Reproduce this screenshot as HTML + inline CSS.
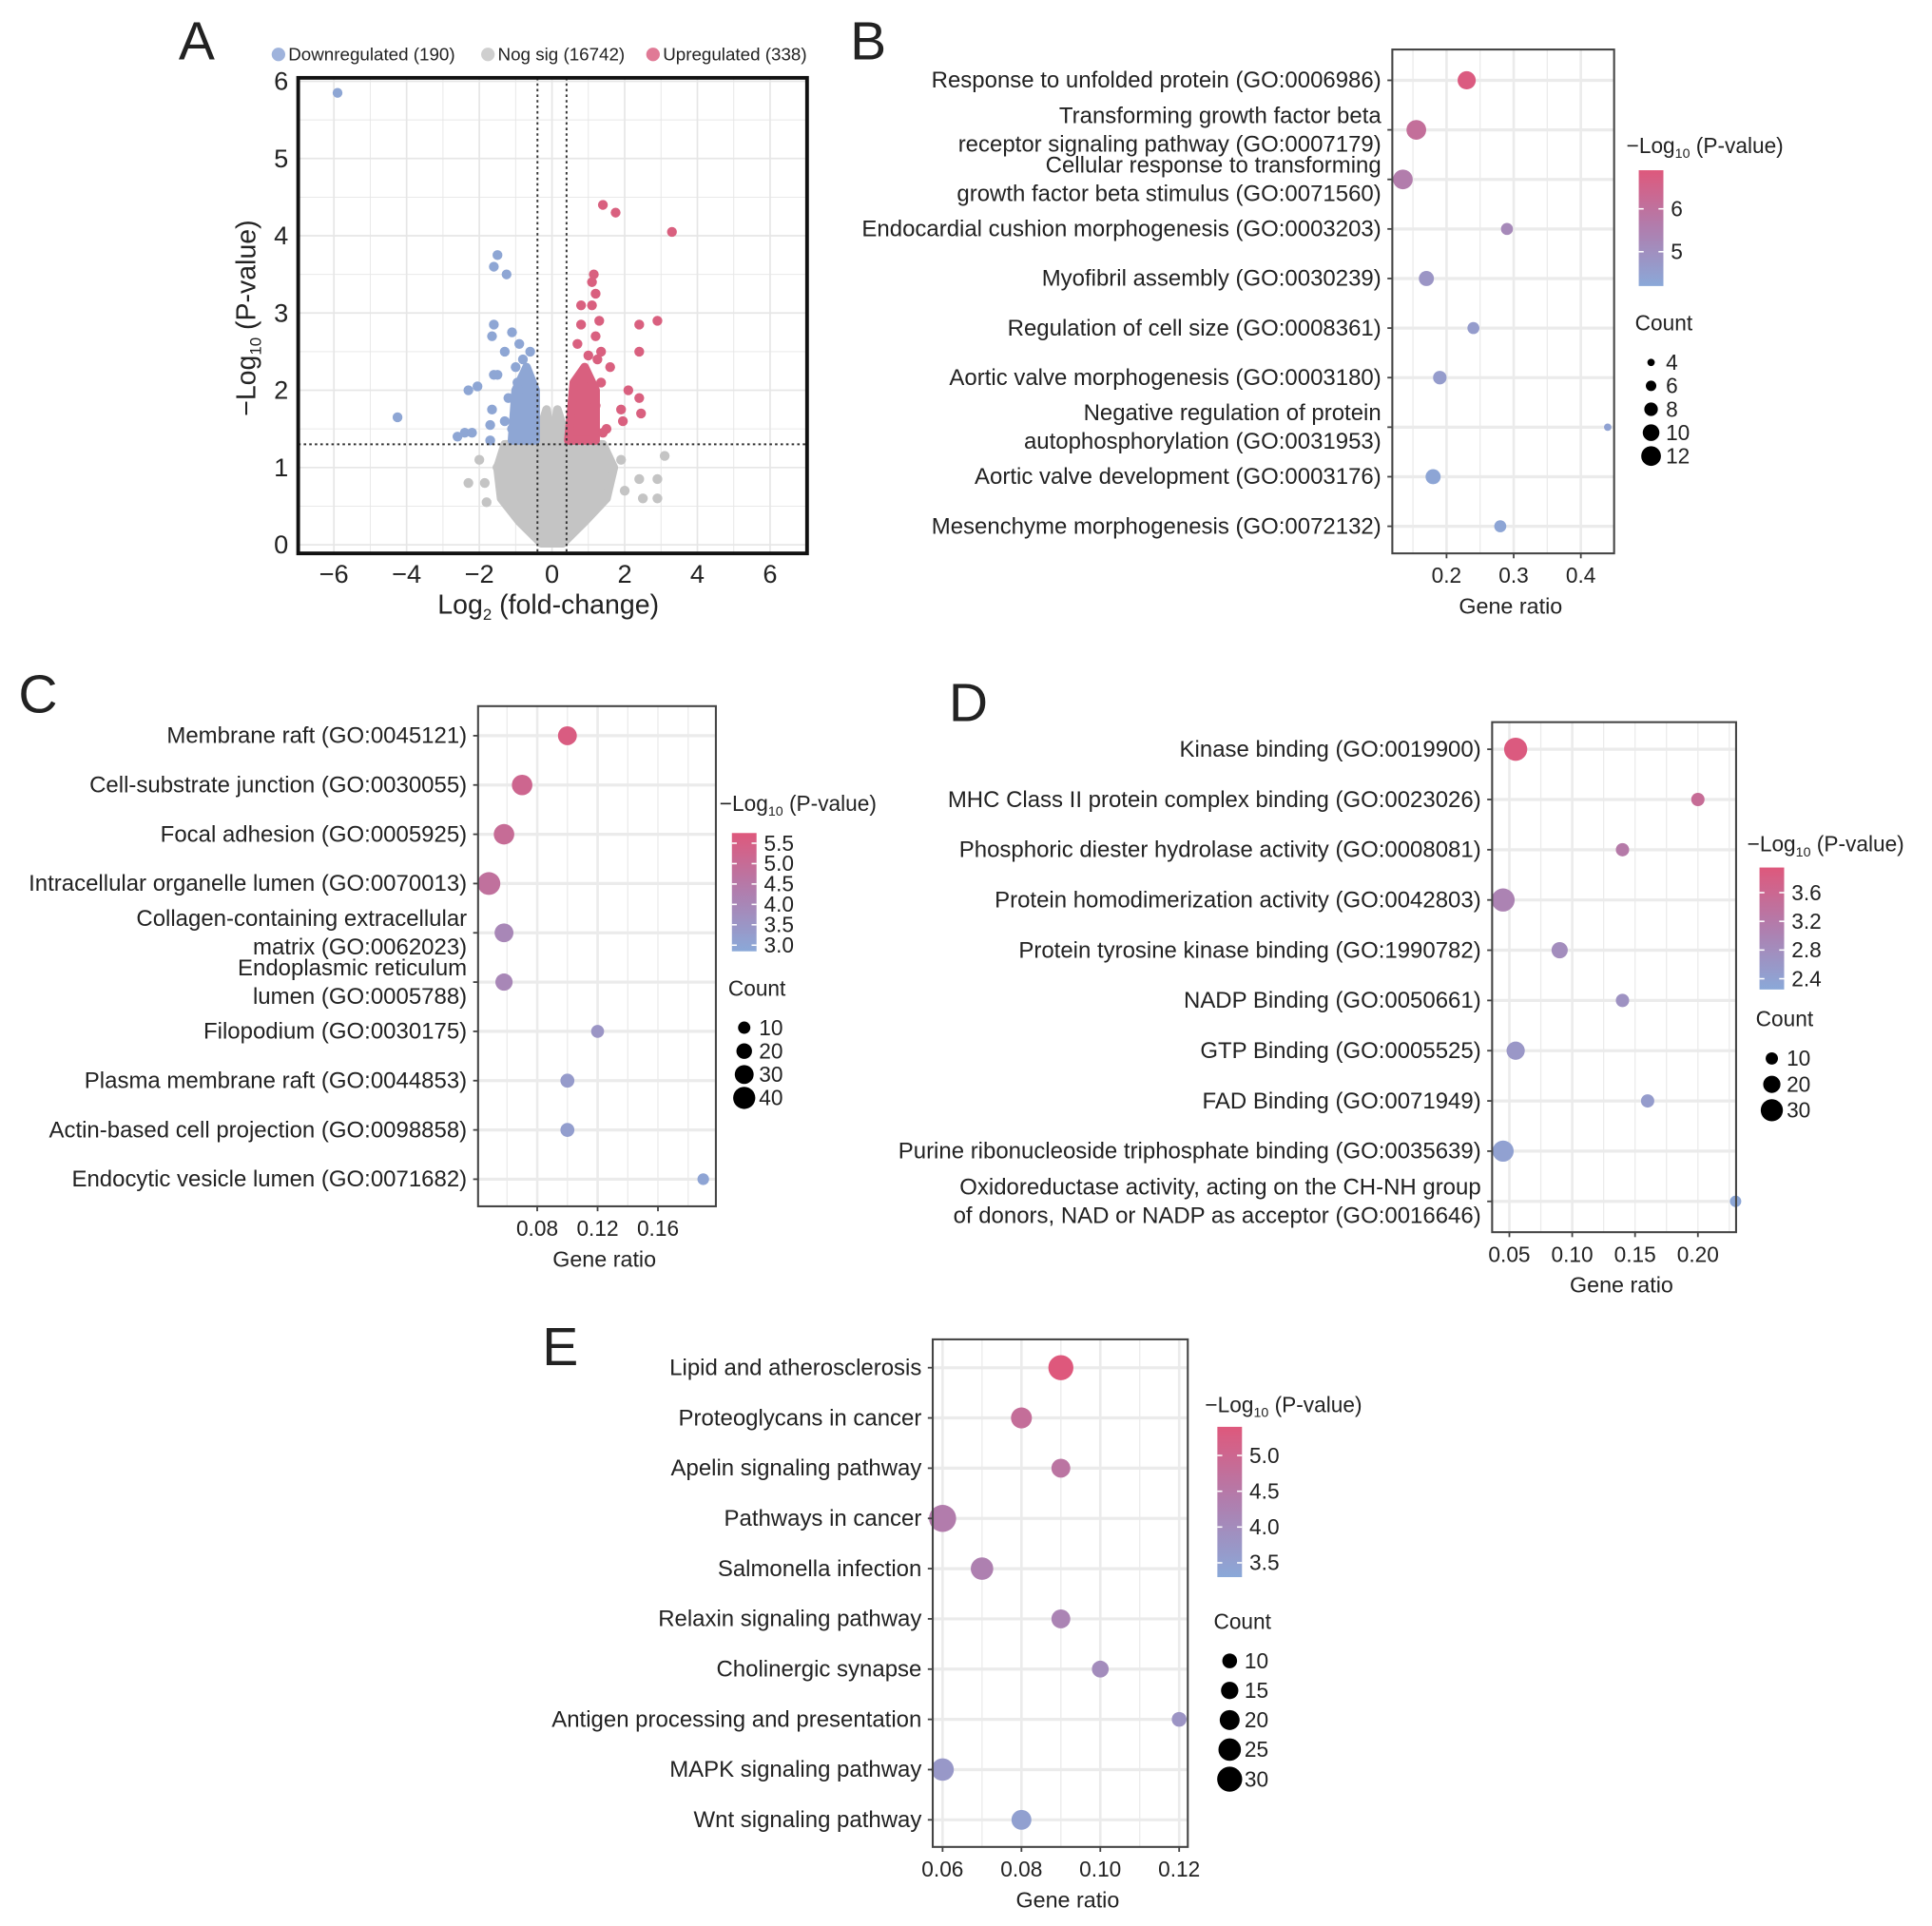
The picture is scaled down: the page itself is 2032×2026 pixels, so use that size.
<!DOCTYPE html>
<html><head><meta charset="utf-8"><style>
html,body{margin:0;padding:0;background:#fff}
svg{display:block}
text{font-family:"Liberation Sans",Arial,sans-serif;fill:#222}
</style></head>
<body>
<svg id="fig" width="2032" height="2026" viewBox="0 0 1568 1563" xmlns="http://www.w3.org/2000/svg"></svg>
<script>
// ---- Panel A data ----
const downPts = [[-5.9,5.85],[-4.25,1.65],[-1.5,3.75],[-1.6,3.6],[-1.25,3.5],[-1.6,2.85],[-1.65,2.7],[-1.1,2.75],[-1.3,2.5],[-2.3,2.0],[-2.05,2.05],[-1.6,2.2],[-1.5,2.2],[-1.65,1.75],[-1.7,1.55],[-2.6,1.4],[-2.4,1.45],[-2.2,1.45],[-1.7,1.35],[-0.9,2.6],[-0.8,2.4],[-1.0,2.3],[-0.7,2.0],[-1.2,1.9],[-1.3,1.6],[-0.6,2.5],[-1.1,1.5],[-0.95,2.1]];
const upPts = [[1.4,4.4],[1.75,4.3],[3.3,4.05],[1.15,3.5],[1.1,3.4],[1.2,3.25],[0.8,3.1],[1.1,3.1],[1.3,2.9],[2.4,2.85],[2.9,2.9],[0.8,2.85],[1.2,2.7],[1.35,2.5],[2.4,2.5],[1.6,2.3],[1.25,2.4],[2.1,2.0],[2.4,1.9],[1.9,1.75],[2.45,1.7],[1.95,1.6],[1.5,1.5],[1.4,1.45],[1.2,1.8],[0.7,2.6],[1.0,2.45],[1.35,2.1]];
const nsPts = [[3.1,1.15],[-2.0,1.1],[-2.3,0.8],[-1.8,0.55],[1.9,1.1],[2.4,0.85],[2.9,0.85],[2.9,0.6],[2.5,0.6],[-1.85,0.8],[1.6,1.0],[2.0,0.7],[-1.5,1.0]];
const nsCloud = [[-1.3,1.3],[-0.45,1.3],[-0.15,1.75],[0,1.3],[0.15,1.75],[0.45,1.3],[1.4,1.3],[1.7,1.0],[1.5,0.6],[0.9,0.3],[0.3,0.02],[-0.3,0.02],[-0.9,0.3],[-1.4,0.6],[-1.5,1.0]];
const downCloud = [[-1.1,1.35],[-0.45,1.35],[-0.45,2.0],[-0.7,2.3],[-1.0,2.0]];
const upCloud = [[0.45,1.35],[1.2,1.35],[1.2,2.0],[0.9,2.3],[0.6,2.1]];
const aXTicks = [-6,-4,-2,0,2,4,6];
const aYTicks = [0,1,2,3,4,5,6];

// ---- Panel B data ----
const bTerms = [["Response to unfolded protein (GO:0006986)"],["Transforming growth factor beta","receptor signaling pathway (GO:0007179)"],["Cellular response to transforming","growth factor beta stimulus (GO:0071560)"],["Endocardial cushion morphogenesis (GO:0003203)"],["Myofibril assembly (GO:0030239)"],["Regulation of cell size (GO:0008361)"],["Aortic valve morphogenesis (GO:0003180)"],["Negative regulation of protein","autophosphorylation (GO:0031953)"],["Aortic valve development (GO:0003176)"],["Mesenchyme morphogenesis (GO:0072132)"]];
const bRatio = [0.23,0.155,0.135,0.29,0.17,0.24,0.19,0.44,0.18,0.28];
const bCount = [11,12,12,7,9,7,8,4,9,7];
const bLogP = [6.8,6.1,5.6,5.2,4.8,4.6,4.6,4.4,4.3,4.3];
const bXTicks = [0.2,0.3,0.4];
const bColorTicks = [5,6];
const bCountTicks = [4,6,8,10,12];

// ---- Panel C data ----
const cTerms = [["Membrane raft (GO:0045121)"],["Cell-substrate junction (GO:0030055)"],["Focal adhesion (GO:0005925)"],["Intracellular organelle lumen (GO:0070013)"],["Collagen-containing extracellular","matrix (GO:0062023)"],["Endoplasmic reticulum","lumen (GO:0005788)"],["Filopodium (GO:0030175)"],["Plasma membrane raft (GO:0044853)"],["Actin-based cell projection (GO:0098858)"],["Endocytic vesicle lumen (GO:0071682)"]];
const cRatio = [0.10,0.07,0.058,0.048,0.058,0.058,0.12,0.10,0.10,0.19];
const cCount = [30,35,35,42,30,25,12,15,15,8];
const cLogP = [5.6,5.2,5.0,4.8,4.0,4.0,3.5,3.3,3.2,3.0];
const cXTicks = [0.08,0.12,0.16];
const cColorTicks = [3.0,3.5,4.0,4.5,5.0,5.5];
const cCountTicks = [10,20,30,40];

// ---- Panel D data ----
const dTerms = [["Kinase binding (GO:0019900)"],["MHC Class II protein complex binding (GO:0023026)"],["Phosphoric diester hydrolase activity (GO:0008081)"],["Protein homodimerization activity (GO:0042803)"],["Protein tyrosine kinase binding (GO:1990782)"],["NADP Binding (GO:0050661)"],["GTP Binding (GO:0005525)"],["FAD Binding (GO:0071949)"],["Purine ribonucleoside triphosphate binding (GO:0035639)"],["Oxidoreductase activity, acting on the CH-NH group","of donors, NAD or NADP as acceptor (GO:0016646)"]];
const dRatio = [0.055,0.20,0.14,0.045,0.09,0.14,0.055,0.16,0.045,0.23];
const dCount = [32,12,12,32,18,12,22,12,28,8];
const dLogP = [3.9,3.5,3.2,3.0,2.8,2.7,2.6,2.5,2.4,2.3];
const dXTicks = [0.05,0.10,0.15,0.20];
const dColorTicks = [2.4,2.8,3.2,3.6];
const dCountTicks = [10,20,30];

// ---- Panel E data ----
const eTerms = [["Lipid and atherosclerosis"],["Proteoglycans in cancer"],["Apelin signaling pathway"],["Pathways in cancer"],["Salmonella infection"],["Relaxin signaling pathway"],["Cholinergic synapse"],["Antigen processing and presentation"],["MAPK signaling pathway"],["Wnt signaling pathway"]];
const eRatio = [0.09,0.08,0.09,0.06,0.07,0.09,0.10,0.12,0.06,0.08];
const eCount = [30,22,18,34,25,18,14,10,25,20];
const eLogP = [5.4,4.8,4.6,4.4,4.3,4.2,4.0,3.8,3.7,3.5];
const eXTicks = [0.06,0.08,0.10,0.12];
const eColorTicks = [3.5,4.0,4.5,5.0];
const eCountTicks = [10,15,20,25,30];

const NS = "http://www.w3.org/2000/svg";
const svg = document.getElementById('fig');
function mk(tag, attrs, parent, txt){
  const e = document.createElementNS(NS, tag);
  for (const k in attrs) e.setAttribute(k, attrs[k]);
  if (txt !== undefined) e.textContent = txt;
  (parent||svg).appendChild(e);
  return e;
}
const LOW=[138,168,216], MID=[176,126,174], HIGH=[222,88,124];
function col(t){
  t=Math.max(0,Math.min(1,t));
  let a,b,u;
  if(t<0.5){a=LOW;b=MID;u=t/0.5;}else{a=MID;b=HIGH;u=(t-0.5)/0.5;}
  return `rgb(${a.map((v,i)=>Math.round(v+(b[i]-v)*u)).join(',')})`;
}

// ================= Panel A =================
(function(){
  const g = mk('g',{});
  
  
  const X0=242,X1=655,Y0=63,Y1=449;
  const sx = v => 448 + v*29.5;
  const sy = v => 442 - v*62.7;
  for (let v=-7; v<=7; v++){ mk('line',{x1:sx(v),x2:sx(v),y1:Y0,y2:Y1,stroke:'#e6e6e6','stroke-width':v%2===0?1.3:0.7},g); }
  for (let v=0; v<=6; v+=0.5){ mk('line',{x1:X0,x2:X1,y1:sy(v),y2:sy(v),stroke:'#e6e6e6','stroke-width':v%1===0?1.3:0.7},g); }
  const cloud = (pts,c,name)=>{
    const p = mk('polygon',{points:pts.map(q=>sx(q[0])+','+sy(q[1])).join(' '),fill:c,stroke:c,'stroke-width':7,'stroke-linejoin':'round'},g);
    
    
  };
  cloud(nsCloud,'#c4c4c4','nonsig-cloud');
  nsPts.forEach(p=>{ const c=mk('circle',{cx:sx(p[0]),cy:sy(p[1]),r:4,fill:'#c4c4c4'},g);
    
     });
  cloud(downCloud,'#8ea6d4','down-cloud');
  cloud(upCloud,'#d9607f','up-cloud');
  downPts.forEach(p=>{ const c=mk('circle',{cx:sx(p[0]),cy:sy(p[1]),r:4,fill:'#8ea6d4'},g);
    
     });
  upPts.forEach(p=>{ const c=mk('circle',{cx:sx(p[0]),cy:sy(p[1]),r:4,fill:'#d9607f'},g);
    
     });
  [-0.4,0.4].forEach(v=>mk('line',{x1:sx(v),x2:sx(v),y1:Y0,y2:Y1,stroke:'#333','stroke-width':1.5,'stroke-dasharray':'2,2.5'},g));
  mk('line',{x1:X0,x2:X1,y1:sy(1.3),y2:sy(1.3),stroke:'#333','stroke-width':1.5,'stroke-dasharray':'2,2.5'},g);
  mk('rect',{x:X0,y:Y0,width:X1-X0,height:Y1-Y0,fill:'none',stroke:'#111','stroke-width':3},g);
  aXTicks.forEach(v=>{ const t=mk('text',{x:sx(v),y:473,'font-size':21,'text-anchor':'middle'},g,(v<0?'−':'')+Math.abs(v));
    
     });
  aYTicks.forEach(v=>{ const t=mk('text',{x:234,y:sy(v)+7,'font-size':21,'text-anchor':'end'},g,String(v));
    
     });
  const xt=mk('text',{x:445,y:498,'font-size':22,'text-anchor':'middle'},g);
  xt.innerHTML='Log<tspan font-size="13" dy="5">2</tspan><tspan dy="-5"> (fold-change)</tspan>';
  
  
  const yt=mk('text',{x:0,y:0,'font-size':22,'text-anchor':'middle',transform:'translate(207,258) rotate(-90)'},g);
  yt.innerHTML='−Log<tspan font-size="13" dy="5">10</tspan><tspan dy="-5"> (P-value)</tspan>';
  
  
  const leg=[['#9fb3dc','Downregulated (190)',226],['#cfcfcf','Nog sig (16742)',396],['#e07a96','Upregulated (338)',530]];
  leg.forEach(l=>{ const lg=mk('g',{},g);
    
    
    mk('circle',{cx:l[2],cy:44,r:5.5,fill:l[0]},lg);
    mk('text',{x:l[2]+8,y:49,'font-size':14.5},lg,l[1]); });
})();

// ================= Dot plots =================
function dotPlot(o){
  const g = mk('g',{});
  
  
  const sx = v => o.x0px + (v-o.x0v)*o.kx;
  const n=o.terms.length;
  const rowY = i => o.r0 + i*(o.r1-o.r0)/(n-1);
  const sr = c => o.rMin + (c-o.cMin)/(o.cMax-o.cMin)*(o.rMax-o.rMin);
  const ct = p => (p-o.pMin)/(o.pMax-o.pMin);
  const step = o.xTicks[1]-o.xTicks[0];
  for (let v=o.xTicks[0]-2*step; v<=o.xTicks[o.xTicks.length-1]+2*step+1e-9; v+=step/2){
    const x=sx(v); if(x<=o.X0||x>=o.X1) continue;
    mk('line',{x1:x,x2:x,y1:o.Y0,y2:o.Y1,stroke:'#ebebeb','stroke-width':Math.abs(((v-o.xTicks[0])/step)%1)<0.01?2:1},g);
  }
  for (let i=0;i<n;i++) mk('line',{x1:o.X0,x2:o.X1,y1:rowY(i),y2:rowY(i),stroke:'#ebebeb','stroke-width':2.5},g);
  for (let i=0;i<n;i++){
    const c=mk('circle',{cx:sx(o.ratio[i]),cy:rowY(i),r:sr(o.count[i]),fill:col(ct(o.logp[i]))},g);
    
    
  }
  mk('rect',{x:o.X0,y:o.Y0,width:o.X1-o.X0,height:o.Y1-o.Y0,fill:'none',stroke:'#444','stroke-width':1.6},g);
  for (let i=0;i<n;i++){
    mk('line',{x1:o.X0-4,x2:o.X0,y1:rowY(i),y2:rowY(i),stroke:'#444','stroke-width':1.4},g);
    const lines=o.terms[i];
    const t=mk('text',{x:o.X0-9,y:0,'font-size':18.5,'text-anchor':'end'},g);
    
    
    lines.forEach((s,j)=>{ mk('tspan',{x:o.X0-9,y:rowY(i)+6+(j-(lines.length-1)/2)*23},t,s); });
  }
  o.xTicks.forEach(v=>{
    mk('line',{x1:sx(v),x2:sx(v),y1:o.Y1,y2:o.Y1+4,stroke:'#444','stroke-width':1.4},g);
    const t=mk('text',{x:sx(v),y:o.Y1+24,'font-size':17.5,'text-anchor':'middle'},g,o.fmt(v));
    
    
  });
  const xt=mk('text',{x:(o.X0+o.X1)/2+6,y:o.Y1+49,'font-size':18,'text-anchor':'middle'},g,'Gene ratio');
  
  
  const lt=mk('text',{x:o.lx-10,y:o.ly,'font-size':17.5},g);
  lt.innerHTML='−Log<tspan font-size="11" dy="4">10</tspan><tspan dy="-4"> (P-value)</tspan>';
  
  
  const gid='gr'+o.name;
  const defs=mk('defs',{},g);
  const lg=mk('linearGradient',{id:gid,x1:0,y1:1,x2:0,y2:0},defs);
  for(let k=0;k<=10;k++) mk('stop',{offset:k/10,'stop-color':col(k/10)},lg);
  const bar=mk('rect',{x:o.lx,y:o.cb0,width:20,height:o.cb1-o.cb0,fill:`url(#${gid})`},g);
  
  
  const cy = p => o.cb1 - ct(p)*(o.cb1-o.cb0);
  o.colorTicks.forEach(v=>{
    mk('line',{x1:o.lx,x2:o.lx+4,y1:cy(v),y2:cy(v),stroke:'#fff','stroke-width':1.2},g);
    mk('line',{x1:o.lx+16,x2:o.lx+20,y1:cy(v),y2:cy(v),stroke:'#fff','stroke-width':1.2},g);
    const t=mk('text',{x:o.lx+26,y:cy(v)+6,'font-size':17.5},g,o.cfmt(v));
    
    
  });
  const ctl=mk('text',{x:o.lx-3,y:o.cy0,'font-size':17.5},g,'Count');
  
  
  o.countTicks.forEach((v,k)=>{
    const y=o.cy0+26+k*o.cstep;
    const e=mk('g',{},g);
    
    
    mk('circle',{cx:o.lx+10,cy:y,r:sr(v),fill:'#000'},e);
    mk('text',{x:o.lx+22,y:y+6,'font-size':17.5},e,String(v));
  });
}
dotPlot({name:'panel-b-dotplot',terms:bTerms,ratio:bRatio,count:bCount,logp:bLogP,xTicks:bXTicks,
  X0:1130,X1:1310,Y0:40,Y1:449,x0px:1174,x0v:0.2,kx:545,r0:65,r1:427,
  rMin:3,rMax:8,cMin:4,cMax:12,pMin:4.2,pMax:6.9,fmt:v=>v.toFixed(1),cfmt:v=>String(v),
  colorTicks:bColorTicks,countTicks:bCountTicks,lx:1330,ly:124,cb0:138,cb1:232,cy0:268,cstep:19});
dotPlot({name:'panel-c-dotplot',terms:cTerms,ratio:cRatio,count:cCount,logp:cLogP,xTicks:cXTicks,
  X0:388,X1:581,Y0:573,Y1:979,x0px:436,x0v:0.08,kx:1225,r0:597,r1:957,
  rMin:5,rMax:9,cMin:10,cMax:40,pMin:2.85,pMax:5.75,fmt:v=>v.toFixed(2),cfmt:v=>v.toFixed(1),
  colorTicks:cColorTicks,countTicks:cCountTicks,lx:594,ly:658,cb0:676,cb1:772,cy0:808,cstep:19});
dotPlot({name:'panel-d-dotplot',terms:dTerms,ratio:dRatio,count:dCount,logp:dLogP,xTicks:dXTicks,
  X0:1211,X1:1409,Y0:586,Y1:1000,x0px:1225,x0v:0.05,kx:1020,r0:608,r1:975,
  rMin:5,rMax:9,cMin:10,cMax:30,pMin:2.25,pMax:3.95,fmt:v=>v.toFixed(2),cfmt:v=>v.toFixed(1),
  colorTicks:dColorTicks,countTicks:dCountTicks,lx:1428,ly:691,cb0:704,cb1:803,cy0:833,cstep:21});
dotPlot({name:'panel-e-dotplot',terms:eTerms,ratio:eRatio,count:eCount,logp:eLogP,xTicks:eXTicks,
  X0:757,X1:964,Y0:1087,Y1:1499,x0px:765,x0v:0.06,kx:3200,r0:1110,r1:1477,
  rMin:6,rMax:11,cMin:10,cMax:34,pMin:3.3,pMax:5.4,fmt:v=>v.toFixed(2),cfmt:v=>v.toFixed(1),
  colorTicks:eColorTicks,countTicks:eCountTicks,lx:988,ly:1146,cb0:1158,cb1:1280,cy0:1322,cstep:24});

[['A',145,48],['B',690,48],['C',15,578],['D',770,585],['E',440,1108]].forEach(l=>{
  const t=mk('text',{x:l[1],y:l[2],'font-size':44},svg,l[0]);
  
  
});
</script>
</body></html>
